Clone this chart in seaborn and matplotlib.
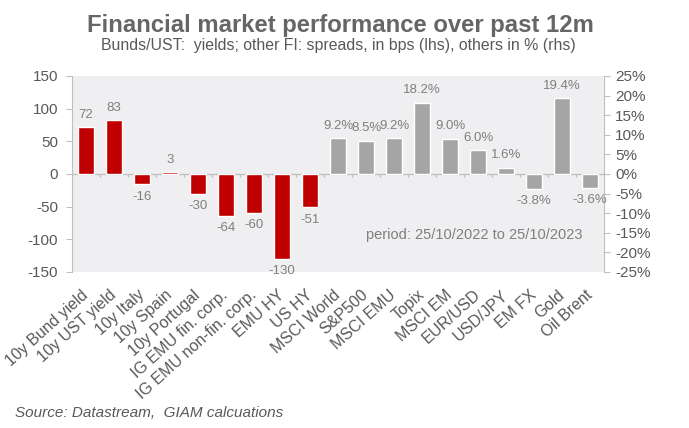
import numpy as np
import pandas as pd
import matplotlib
matplotlib.use("Agg")
import matplotlib.pyplot as plt
import seaborn as sns
from matplotlib.ticker import FuncFormatter

# ---- data ----
categories = ["10y Bund yield", "10y UST yield", "10y Italy", "10y Spain", "10y Portugal",
              "IG EMU fin. corp.", "IG EMU non-fin. corp.", "EMU HY", "US HY",
              "MSCI World", "S&P500", "MSCI EMU", "Topix", "MSCI EM", "EUR/USD",
              "USD/JPY", "EM FX", "Gold", "Oil Brent"]
fi_categories = categories[:9]
fi_bps = [72, 83, -16, 3, -30, -64, -60, -130, -51]
other_categories = categories[9:]
other_pct = [9.2, 8.5, 9.2, 18.2, 9.0, 6.0, 1.6, -3.8, 19.4, -3.6]
left_ticks = [-150, -100, -50, 0, 50, 100, 150]
right_ticks = [-25, -20, -15, -10, -5, 0, 5, 10, 15, 20, 25]

title = "Financial market performance over past 12m"
subtitle = "Bunds/UST:  yields; other FI: spreads, in bps (lhs), others in % (rhs)"
period = "period: 25/10/2022 to 25/10/2023"
source = "Source: Datastream,  GIAM calcuations"

# ---- style ----
sns.set_style("white")
plt.rcParams['font.family'] = ['Liberation Sans', 'DejaVu Sans']
plt.rcParams['axes.unicode_minus'] = False

RED = '#c00000'
GREY = '#a5a5a5'
TXT = '#595959'
LBL = '#7f7f7f'
AXC = '#bfbfbf'

W, H = 689, 428
fig = plt.figure(figsize=(W / 100, H / 100), dpi=100)
ax = fig.add_axes([72 / W, 1 - 272 / H, 532 / W, 196 / H])
ax.set_facecolor('#efeff1')
ax2 = ax.twinx()

df_fi = pd.DataFrame({'cat': fi_categories, 'val': fi_bps})
df_ot = pd.DataFrame({'cat': other_categories, 'val': other_pct})

sns.barplot(data=df_fi, x='cat', y='val', order=categories, color=RED,
            saturation=1, width=0.54, errorbar=None, ax=ax)
sns.barplot(data=df_ot, x='cat', y='val', order=categories, color=GREY,
            saturation=1, width=0.54, errorbar=None, ax=ax2)

ax.set_xlim(-0.5, len(categories) - 0.5)
ax.set_ylim(-150, 150)
ax2.set_ylim(-25, 25)
ax.set_yticks(left_ticks)
ax2.set_yticks(right_ticks)
ax2.yaxis.set_major_formatter(FuncFormatter(lambda v, p: f"{v:.0f}%"))
ax.set_xlabel('')
ax.set_ylabel('')
ax2.set_ylabel('')
ax2.set_xlabel('')

# data labels
for c in ax.containers:
    ax.bar_label(c, fmt='{:.0f}', padding=4.5, color=LBL, fontsize=9.5)
for c in ax2.containers:
    ax2.bar_label(c, fmt='{:.1f}%', padding=4.5, color=LBL, fontsize=9.5)

# zero line and category boundary ticks
ax.axhline(0, color=AXC, lw=0.9, zorder=0.5)
ax.vlines(np.arange(0.5, len(categories) - 1), -5, 0, color=AXC, lw=0.9)

# spines
for s in ['top', 'bottom', 'right']:
    ax.spines[s].set_visible(False)
for s in ['top', 'bottom', 'left']:
    ax2.spines[s].set_visible(False)
ax.spines['left'].set_color(AXC)
ax2.spines['right'].set_color(AXC)

ax.tick_params(axis='y', left=True, length=4, width=0.8, color=AXC,
               labelcolor=TXT, labelsize=11, pad=6)
ax2.tick_params(axis='y', right=True, length=4, width=0.8, color=AXC,
                labelcolor=TXT, labelsize=11, pad=4)
ax.tick_params(axis='x', bottom=False, length=0, labelcolor=TXT, labelsize=11.5, pad=15)
for lab in ax.get_xticklabels():
    lab.set_rotation(42)
    lab.set_ha('right')
    lab.set_va('center')
    lab.set_rotation_mode('anchor')

ax.text(0.756, 0.189, period, transform=ax.transAxes, ha='center', va='center',
        fontsize=10.5, color=LBL)

fig.text(0.494, 0.925, title, ha='center', va='baseline', fontsize=17.2,
         fontweight='bold', color='#666666')
fig.text(0.491, 0.883, subtitle, ha='center', va='baseline', fontsize=11.4, color=TXT)
fig.text(0.022, 0.035, source, ha='left', va='center', fontsize=11,
         style='italic', color=TXT)

fig.savefig('out.png', dpi=100)
